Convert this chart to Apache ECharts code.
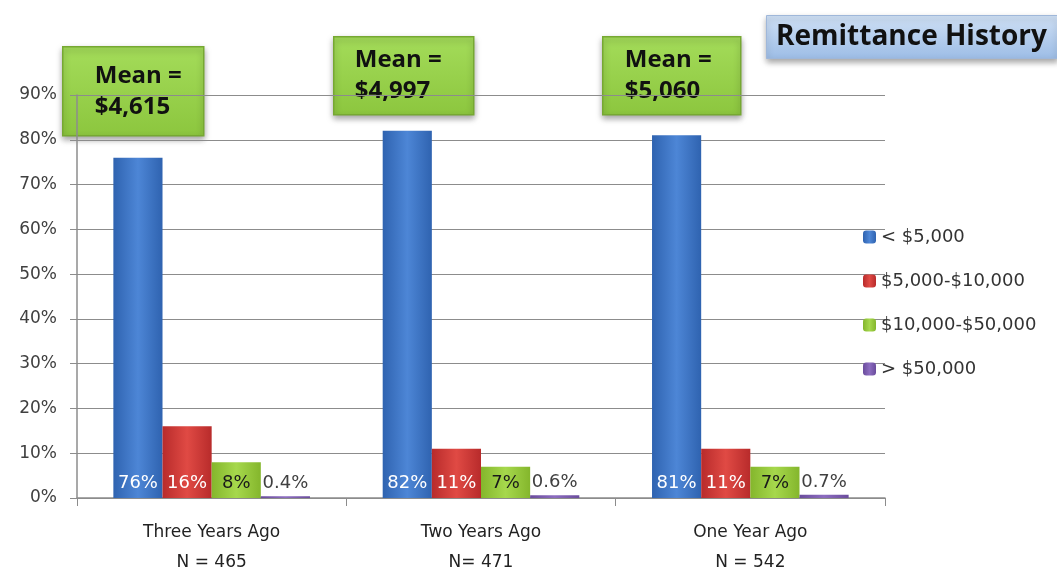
<!DOCTYPE html>
<html>
<head>
<meta charset="utf-8">
<script src="https://cdn.jsdelivr.net/npm/echarts@6/dist/echarts.min.js"></script>
<style>
  html, body { margin: 0; padding: 0; background: #fff; }
  #chartBox { width: 1057px; height: 571px; }
</style>
</head>
<body>
<div id="chartBox"></div>
<script>
  // data
  const categories = ['Three Years Ago\nN = 465', 'Two Years Ago\nN= 471', 'One Year Ago\nN = 542']
  const seriesNames = ['< $5,000', '$5,000-$10,000', '$10,000-$50,000', '> $50,000']
  const under5k = [76, 82, 81]
  const from5kTo10k = [16, 11, 11]
  const from10kTo50k = [8, 7, 7]
  const over50k = [0.4, 0.6, 0.7]
  const means = ['$4,615', '$4,997', '$5,060']
  const yTicks = [0, 10, 20, 30, 40, 50, 60, 70, 80, 90]

  const font = 'DejaVu Sans'

  // bevel-ish look: darker edges, lighter middle
  const bevel = (dark, light) => ({
    type: 'linear', x: 0, y: 0, x2: 1, y2: 0,
    colorStops: [
      { offset: 0, color: dark },
      { offset: 0.5, color: light },
      { offset: 1, color: dark }
    ]
  })
  const colors = [
    bevel('#2f63b0', '#4d86d6'),
    bevel('#b82b2b', '#e04a44'),
    bevel('#84b62c', '#a6d84c'),
    bevel('#6a4c9c', '#8c6cc0')
  ]
  const labelColors = ['#ffffff', '#ffffff', '#1a1a1a', '#404040']

  const makeSeries = (name, values, i) => ({
    name: name,
    type: 'bar',
    barGap: 0,
    barCategoryGap: '27%',
    data: values,
    itemStyle: { color: colors[i] },
    label: {
      show: true,
      position: i === 3 ? 'top' : 'insideBottom',
      distance: i === 3 ? 4 : 6,
      color: labelColors[i],
      fontFamily: font,
      fontSize: 18,
      formatter: p => p.value + '%'
    }
  })

  // annotation boxes for the means
  const meanBoxes = [
    { x: 62, y: 46, w: 141, h: 89, tx: 94 },
    { x: 333, y: 36, w: 140, h: 78, tx: 354 },
    { x: 602, y: 36, w: 138, h: 78, tx: 624 }
  ]

  const chartDom = echarts.init(document.getElementById('chartBox'))
  const option = {
    animation: false,
    grid: { left: 77, right: 172, top: 95, bottom: 73, outerBoundsMode: 'none' },
    legend: {
      orient: 'vertical',
      left: 858,
      top: 223,
      itemGap: 26,
      itemWidth: 13,
      itemHeight: 13,
      textStyle: { fontFamily: font, fontSize: 18, color: '#333' },
      data: seriesNames
    },
    xAxis: {
      type: 'category',
      data: categories,
      axisLine: { lineStyle: { color: '#8c8c8c', width: 1.5 } },
      axisTick: { show: true, length: 8, lineStyle: { color: '#8c8c8c' } },
      axisLabel: {
        fontFamily: font, fontSize: 17, color: '#222', lineHeight: 30, margin: 20
      }
    },
    yAxis: {
      type: 'value',
      min: 0,
      max: 90,
      interval: 10,
      axisLine: { show: true, lineStyle: { color: '#8c8c8c', width: 1.5 } },
      axisTick: { show: true, length: 7, lineStyle: { color: '#8c8c8c' } },
      splitLine: { lineStyle: { color: '#8c8c8c', width: 1.2 } },
      axisLabel: {
        fontFamily: font, fontSize: 17, color: '#404040', margin: 20,
        formatter: v => yTicks.includes(v) ? v + '%' : ''
      }
    },
    series: [
      makeSeries(seriesNames[0], under5k, 0),
      makeSeries(seriesNames[1], from5kTo10k, 1),
      makeSeries(seriesNames[2], from10kTo50k, 2),
      makeSeries(seriesNames[3], over50k, 3)
    ],
    graphic: [
      {
        type: 'group',
        left: 766, top: 15,
        children: [
          {
            type: 'rect',
            shape: { x: 0, y: 0, width: 291, height: 43 },
            style: {
              fill: { type: 'linear', x: 0, y: 0, x2: 0, y2: 1,
                colorStops: [{ offset: 0, color: '#cfe0f5' }, { offset: 1, color: '#9dbde6' }] },
              stroke: '#9fb7d9', lineWidth: 1,
              shadowBlur: 6, shadowColor: 'rgba(0,0,0,0.35)', shadowOffsetY: 3
            }
          },
          {
            type: 'text',
            x: 145, y: 22,
            style: {
              text: 'Remittance History', fill: '#111',
              font: 'bold 28px "Open Sans"', align: 'center', verticalAlign: 'middle'
            }
          }
        ]
      }
    ].concat(meanBoxes.map((b, i) => ({
      type: 'group',
      left: b.x, top: b.y,
      children: [
        {
          type: 'rect',
          shape: { x: 0, y: 0, width: b.w, height: b.h },
          style: {
            fill: { type: 'linear', x: 0, y: 0, x2: 0, y2: 1,
              colorStops: [{ offset: 0, color: '#a4dc5a' }, { offset: 1, color: '#8cc63e' }] },
            stroke: '#76a832', lineWidth: 1.5,
            shadowBlur: 6, shadowColor: 'rgba(0,0,0,0.35)', shadowOffsetY: 3
          }
        },
        {
          type: 'text',
          x: b.tx - b.x, y: b.h / 2,
          style: {
            text: 'Mean =\n' + means[i], fill: '#111', lineHeight: 31,
            font: 'bold 24px "Open Sans"', align: 'left', verticalAlign: 'middle'
          }
        }
      ]
    })))
  }
  option && chartDom.setOption(option)
</script>
</body>
</html>
